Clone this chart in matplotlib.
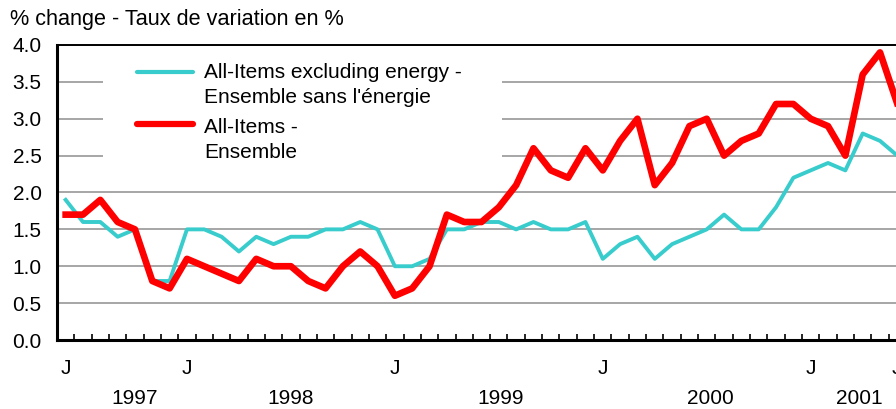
"""
Consumer price index, 12-month % change, June 1997 to June 2001.
All-items vs all-items excluding energy (bilingual labels).

Outputs:
  - out.png
"""

import matplotlib
matplotlib.use('Agg')
import matplotlib.pyplot as plt
from matplotlib.patches import Rectangle
from matplotlib.ticker import FixedLocator, FormatStrFormatter

plt.rcParams['font.family'] = ['Liberation Sans', 'DejaVu Sans']

# monthly values, June 1997 .. June 2001
ALL_ITEMS = [
    1.7, 1.7, 1.9, 1.6, 1.5, 0.8, 0.7,                          # 1997 Jun-Dec
    1.1, 1.0, 0.9, 0.8, 1.1, 1.0, 1.0, 0.8, 0.7, 1.0, 1.2, 1.0,  # 1998
    0.6, 0.7, 1.0, 1.7, 1.6, 1.6, 1.8, 2.1, 2.6, 2.3, 2.2, 2.6,  # 1999
    2.3, 2.7, 3.0, 2.1, 2.4, 2.9, 3.0, 2.5, 2.7, 2.8, 3.2, 3.2,  # 2000
    3.0, 2.9, 2.5, 3.6, 3.9, 3.2,                                # 2001 Jan-Jun
]
EXCL_ENERGY = [
    1.9, 1.6, 1.6, 1.4, 1.5, 0.8, 0.8,
    1.5, 1.5, 1.4, 1.2, 1.4, 1.3, 1.4, 1.4, 1.5, 1.5, 1.6, 1.5,
    1.0, 1.0, 1.1, 1.5, 1.5, 1.6, 1.6, 1.5, 1.6, 1.5, 1.5, 1.6,
    1.1, 1.3, 1.4, 1.1, 1.3, 1.4, 1.5, 1.7, 1.5, 1.5, 1.8, 2.2,
    2.3, 2.4, 2.3, 2.8, 2.7, 2.5,
]

# month labels ("J" = June / January) and year labels
J_POSITIONS = [0, 7, 19, 31, 43, 48]
YEAR_LABELS = ['1997', '1998', '1999', '2000', '2001']
YEAR_POSITIONS = [4.0, 13.0, 25.1, 37.2, 45.8]

Y_TICKS = [0.0, 0.5, 1.0, 1.5, 2.0, 2.5, 3.0, 3.5, 4.0]

TITLE = '% change - Taux de variation en %'
LABEL_EXCL = ['All-Items excluding energy -', "Ensemble sans l'énergie"]
LABEL_ALL = ['All-Items -', 'Ensemble']

RED = '#ff0000'
CYAN = '#38cccc'
GRID = '#a6a6a6'
FS = 15


def main():
    fig = plt.figure(figsize=(8.96, 4.09), dpi=100)
    # axes runs past the right edge of the picture (the source is cropped)
    ax = fig.add_axes([57 / 896, 69 / 409, 849 / 896, 295 / 409])

    months = list(range(len(ALL_ITEMS)))
    ax.plot(months, EXCL_ENERGY, color=CYAN, linewidth=2.8, zorder=3)
    ax.plot(months, ALL_ITEMS, color=RED, linewidth=4.8, zorder=4)

    ax.set_xlim(-0.5, len(ALL_ITEMS) - 0.5)
    ax.set_ylim(0, 4)

    # y axis
    ax.set_yticks(Y_TICKS)
    ax.yaxis.set_major_formatter(FormatStrFormatter('%.1f'))
    ax.tick_params(axis='y', length=0, pad=11, labelsize=FS)
    ax.yaxis.grid(True, color=GRID, linewidth=1.4)
    ax.set_axisbelow(True)

    # x axis: minor ticks at month boundaries, "J" labels at month centres
    ax.set_xticks(J_POSITIONS)
    ax.set_xticklabels(['J'] * len(J_POSITIONS))
    ax.tick_params(axis='x', which='major', length=0, pad=14, labelsize=FS)
    ax.xaxis.set_minor_locator(
        FixedLocator([m + 0.5 for m in months[:-1]]))
    ax.tick_params(axis='x', which='minor', direction='in',
                   length=4, width=1.2, color='black')

    for year, pos in zip(YEAR_LABELS, YEAR_POSITIONS):
        ax.text(pos, -0.2, year, transform=ax.get_xaxis_transform(),
                ha='center', va='center', fontsize=FS, clip_on=False)

    for side in ['left', 'bottom']:
        ax.spines[side].set_linewidth(2.2)
    ax.spines['top'].set_linewidth(1.4)
    ax.spines['right'].set_visible(False)

    # legend drawn by hand so the handle sits on the first text line
    ax.add_patch(Rectangle((0.054, 0.57), 0.47, 0.42,
                           transform=ax.transAxes, facecolor='white',
                           edgecolor='none', zorder=1.5))
    ax.plot([0.094, 0.160], [0.908, 0.908], transform=ax.transAxes,
            color=CYAN, linewidth=3.0, solid_capstyle='round', zorder=5)
    ax.plot([0.094, 0.160], [0.732, 0.732], transform=ax.transAxes,
            color=RED, linewidth=4.5, solid_capstyle='round', zorder=5)
    for text, y in zip(LABEL_EXCL + LABEL_ALL, [0.888, 0.803, 0.702, 0.617]):
        ax.text(0.173, y, text, transform=ax.transAxes,
                ha='left', va='baseline', fontsize=FS, zorder=5)

    fig.text(10 / 896, 1 - 20 / 409, TITLE, ha='left', va='center',
             fontsize=15.6)

    fig.savefig('out.png', dpi=100)
    plt.close(fig)


if __name__ == '__main__':
    main()
